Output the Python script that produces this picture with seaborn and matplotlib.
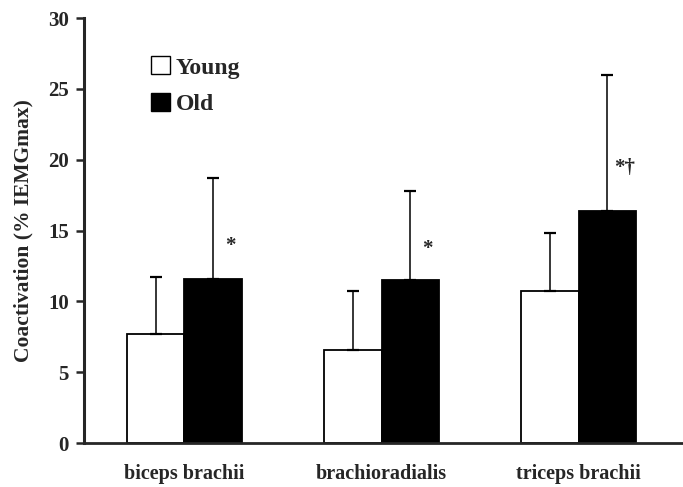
import pandas as pd
import matplotlib
matplotlib.use('Agg')
import matplotlib.pyplot as plt
import seaborn as sns

muscles = ['biceps brachii', 'brachioradialis', 'triceps brachii']
groups = ['Young', 'Old']
young_mean = [7.7, 6.6, 10.7]
old_mean = [11.6, 11.5, 16.4]
young_sd = [4.0, 4.1, 4.1]
old_sd = [7.1, 6.3, 9.6]
marks = ['*', '*', '*\u2020']
mark_y = [13.9, 13.7, 19.4]

df = pd.DataFrame({
    'muscle': muscles * 2,
    'group': ['Young'] * 3 + ['Old'] * 3,
    'value': young_mean + old_mean,
    'sd': young_sd + old_sd,
})

sns.set_style('ticks')
plt.rcParams['font.family'] = ['Liberation Serif', 'DejaVu Serif']
plt.rcParams['font.weight'] = 'bold'

fig = plt.figure(figsize=(6.83, 4.87), dpi=100)
ax = fig.add_axes([0.123, 0.0903, 0.877, 0.8727])

sns.barplot(data=df, x='muscle', y='value', hue='group', order=muscles,
            hue_order=groups, palette={'Young': 'white', 'Old': 'black'},
            edgecolor='black', linewidth=1.3, width=0.58, errorbar=None,
            saturation=1, ax=ax)

# upper-only error bars, centred on each bar
bars = ax.patches[:6]
for bar, (_, row) in zip(bars, df.iterrows()):
    cx = bar.get_x() + bar.get_width() / 2
    ax.errorbar(cx, row['value'], yerr=[[0], [row['sd']]], fmt='none',
                ecolor='black', elinewidth=1.1, capsize=4.5, capthick=1.6)

# significance marks next to the Old bars
for i, m in enumerate(marks):
    ax.text(i + 0.235, mark_y[i], m, ha='center', va='center',
            fontsize=15, fontweight='bold')

ax.set_ylim(0, 30)
ax.set_yticks(range(0, 31, 5))
ax.set_xlim(-0.51, 2.53)
ax.set_xlabel('')
ax.set_ylabel('Coactivation (% IEMGmax)', fontsize=15.5, fontweight='bold',
              labelpad=10)
ax.tick_params(axis='y', direction='out', length=6, width=1.8, labelsize=15,
               pad=5)
ax.tick_params(axis='x', length=0, labelsize=14.5, pad=15)
for lab in ax.get_xticklabels() + ax.get_yticklabels():
    lab.set_fontweight('bold')

sns.despine(ax=ax)
ax.spines['left'].set_linewidth(2.2)
ax.spines['bottom'].set_linewidth(2.0)

handles, labels = ax.get_legend_handles_labels()
leg = ax.legend(handles, labels, loc='upper left',
                bbox_to_anchor=(0.112, 0.91), frameon=False,
                handlelength=0.8, handleheight=0.8, handletextpad=0.25,
                labelspacing=0.6, borderpad=0, borderaxespad=0,
                prop={'weight': 'bold', 'size': 17})
for h in leg.legend_handles:
    h.set_edgecolor('black')
    h.set_linewidth(1.0)

fig.savefig('out.png', dpi=100)
